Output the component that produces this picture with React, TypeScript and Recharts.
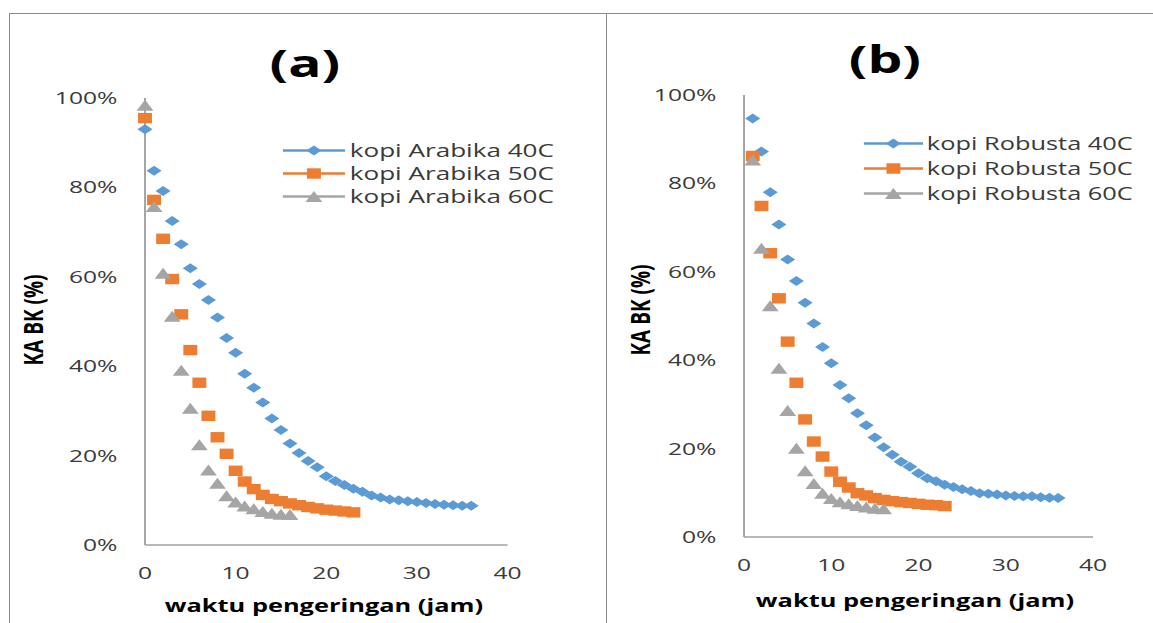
import React from 'react'
import { ScatterChart, Scatter, XAxis, YAxis, Legend } from 'recharts'

// drying time (hours)
const hoursA = [0, 1, 2, 3, 4, 5, 6, 7, 8, 9, 10, 11, 12, 13, 14, 15, 16, 17, 18, 19, 20, 21, 22, 23, 24, 25, 26, 27, 28, 29, 30, 31, 32, 33, 34, 35, 36]
const hoursB = [1, 2, 3, 4, 5, 6, 7, 8, 9, 10, 11, 12, 13, 14, 15, 16, 17, 18, 19, 20, 21, 22, 23, 24, 25, 26, 27, 28, 29, 30, 31, 32, 33, 34, 35, 36]

// moisture content, dry basis (%)
const arabika40 = [93, 83.7, 79.2, 72.5, 67.3, 61.9, 58.4, 54.8, 50.9, 46.3, 43, 38.3, 35.2, 31.9, 28.3, 25.7, 22.7, 20.6, 18.8, 17.4, 15.4, 14.3, 13.4, 12.6, 11.9, 11.1, 10.6, 10.2, 10, 9.8, 9.6, 9.4, 9.2, 9, 8.9, 8.8, 8.8]
const arabika50 = [95.5, 77.2, 68.5, 59.5, 51.6, 43.6, 36.3, 28.9, 24.1, 20.4, 16.6, 14.2, 12.5, 11.2, 10.3, 9.8, 9.3, 8.9, 8.5, 8.2, 7.9, 7.7, 7.5, 7.3]
const arabika60 = [98.4, 75.7, 60.8, 51.2, 39.1, 30.6, 22.4, 16.8, 13.8, 11, 9.6, 8.7, 8.1, 7.5, 7.1, 6.9, 6.8]
const robusta40 = [94.7, 87.2, 78, 70.7, 62.8, 57.9, 53, 48.3, 43, 39.3, 34.4, 31.4, 28, 25.3, 22.5, 20.3, 18.6, 17, 15.9, 14.4, 13.3, 12.6, 11.8, 11.3, 10.8, 10.4, 9.9, 9.8, 9.6, 9.4, 9.3, 9.2, 9.2, 9, 8.9, 8.8]
const robusta50 = [86.2, 74.9, 64.2, 54, 44.2, 34.9, 26.6, 21.6, 18.2, 14.8, 12.5, 11.2, 9.9, 9.4, 8.8, 8.4, 8.1, 7.9, 7.7, 7.5, 7.3, 7.2, 7]
const robusta60 = [85.3, 65.3, 52.3, 38.2, 28.6, 20.1, 15, 12.1, 9.9, 8.7, 8, 7.5, 7.1, 6.8, 6.5, 6.4]

const xTicks = [0, 10, 20, 30, 40]
const yTicks = [0, 20, 40, 60, 80, 100]

const BLUE = '#5B9BD5'
const ORANGE = '#ED7D31'
const GRAY = '#A5A5A5'
const AXIS = '#a0a0a0'
const TEXT = '#3a3a3a'
const FONT = '"Open Sans", sans-serif'
// the source picture is stretched sideways, so each panel is drawn narrow and widened
const STRETCH = 1.45

type Kind = 'diamond' | 'square' | 'triangle'
type Series = { name: string; hours: number[]; values: number[]; color: string; kind: Kind }

function Marker({ cx, cy, kind, color }: { cx?: number; cy?: number; kind: Kind; color: string }) {
  if (cx == null || cy == null) return null
  if (kind === 'diamond')
    return <polygon points={`${cx},${cy - 5} ${cx + 5.2},${cy} ${cx},${cy + 5} ${cx - 5.2},${cy}`} fill={color} />
  if (kind === 'square')
    return <rect x={cx - 4.8} y={cy - 5.2} width={9.6} height={10.4} fill={color} />
  return <polygon points={`${cx},${cy - 5.5} ${cx + 5.8},${cy + 5.5} ${cx - 5.8},${cy + 5.5}`} fill={color} />
}

function LegendRows({ items, fontSize, rowH, lineW }: { items: Series[]; fontSize: number; rowH: number; lineW: number }) {
  return (
    <div style={{ fontFamily: FONT, fontSize, color: TEXT }}>
      {items.map((s) => (
        <div key={s.name} style={{ display: 'flex', alignItems: 'center', height: rowH }}>
          <svg width={lineW} height={rowH} style={{ display: 'block' }}>
            <line x1={0} x2={lineW} y1={rowH / 2} y2={rowH / 2} stroke={s.color} strokeWidth={2.6} />
            <Marker cx={lineW / 2} cy={rowH / 2} kind={s.kind} color={s.color} />
          </svg>
          <span style={{ marginLeft: 3, whiteSpace: 'nowrap' }}>{s.name}</span>
        </div>
      ))}
    </div>
  )
}

const centered = (x: number, y: number): React.CSSProperties => ({
  position: 'absolute', left: x, top: y, transform: 'translate(-50%, -50%)', whiteSpace: 'nowrap',
})

function Panel({
  left, width, yAxisW, right, top, bottom, series, title, titlePos, yTitlePos, xTitlePos, legendPos, legendFont, legendRow, legendLine,
}: {
  left: number; width: number; yAxisW: number; right: number; top: number; bottom: number
  series: Series[]; title: string
  titlePos: [number, number]; yTitlePos: [number, number]; xTitlePos: [number, number]
  legendPos: [number, number]; legendFont: number; legendRow: number; legendLine: number
}) {
  return (
    <div style={{
      position: 'absolute', left, top: 0, width, height: 623,
      transform: `scaleX(${STRETCH})`, transformOrigin: '0 0', fontFamily: FONT,
    }}>
      <ScatterChart width={width} height={623} margin={{ top, right, bottom, left: 0 }}>
        <XAxis
          type="number" dataKey="x" domain={[0, 40]} ticks={xTicks} height={30}
          tickLine={false} tickSize={0} tickMargin={22}
          axisLine={{ stroke: AXIS, strokeWidth: 1.3 }}
          tick={{ fill: TEXT, fontSize: 17, fontFamily: FONT }}
        />
        <YAxis
          type="number" dataKey="y" domain={[0, 100]} ticks={yTicks} width={yAxisW}
          tickFormatter={(v: number) => `${v}%`}
          tickLine={false} tickSize={0} tickMargin={19}
          axisLine={{ stroke: AXIS, strokeWidth: 1.3 }}
          tick={{ fill: TEXT, fontSize: 17, fontFamily: FONT }}
        />
        <Legend
          layout="vertical" align="center" verticalAlign="middle"
          wrapperStyle={{ left: legendPos[0], top: legendPos[1], width: 'auto' }}
          content={() => <LegendRows items={series} fontSize={legendFont} rowH={legendRow} lineW={legendLine} />}
        />
        {series.map((s) => (
          <Scatter
            key={s.name}
            name={s.name}
            data={s.values.map((v, i) => ({ x: s.hours[i], y: v }))}
            fill={s.color}
            isAnimationActive={false}
            shape={(p: any) => <Marker cx={p.cx} cy={p.cy} kind={s.kind} color={s.color} />}
          />
        ))}
      </ScatterChart>
      <div style={{ ...centered(titlePos[0], titlePos[1]), fontSize: 38, fontWeight: 700, color: '#000' }}>{title}</div>
      <div style={{ ...centered(yTitlePos[0], yTitlePos[1]), transform: 'translate(-50%, -50%) rotate(-90deg)', fontSize: 19, fontWeight: 700, color: '#000' }}>
        KA BK (%)
      </div>
      <div style={{ ...centered(xTitlePos[0], xTitlePos[1]), fontSize: 17.5, fontWeight: 700, color: '#000' }}>
        waktu pengeringan (jam)
      </div>
    </div>
  )
}

const arabika: Series[] = [
  { name: 'kopi Arabika 40C', hours: hoursA, values: arabika40, color: BLUE, kind: 'diamond' },
  { name: 'kopi Arabika 50C', hours: hoursA, values: arabika50, color: ORANGE, kind: 'square' },
  { name: 'kopi Arabika 60C', hours: hoursA, values: arabika60, color: GRAY, kind: 'triangle' },
]

const robusta: Series[] = [
  { name: 'kopi Robusta 40C', hours: hoursB, values: robusta40, color: BLUE, kind: 'diamond' },
  { name: 'kopi Robusta 50C', hours: hoursB, values: robusta50, color: ORANGE, kind: 'square' },
  { name: 'kopi Robusta 60C', hours: hoursB, values: robusta60, color: GRAY, kind: 'triangle' },
]

export default function App() {
  const line = '#8c8c8c'
  return (
    <div style={{ position: 'absolute', left: 0, top: 0, width: 1153, height: 623, background: '#fff', overflow: 'hidden' }}>
      {/* frame lines */}
      <div style={{ position: 'absolute', left: 9, top: 13, width: 1144, height: 0, borderTop: `1px solid ${line}` }} />
      <div style={{ position: 'absolute', left: 9, top: 13, width: 0, height: 610, borderLeft: `1px solid ${line}` }} />
      <div style={{ position: 'absolute', left: 606, top: 13, width: 0, height: 610, borderLeft: `1px solid ${line}` }} />

      <Panel
        left={0} width={419} yAxisW={100} right={69} top={98} bottom={48}
        series={arabika} title="(a)"
        titlePos={[210.3, 62]} yTitlePos={[22.8, 320]} xTitlePos={[223.4, 605]}
        legendPos={[195.2, 138.5]} legendFont={18} legendRow={23} legendLine={43}
      />
      <Panel
        left={607} width={377} yAxisW={94.5} right={41.8} top={95} bottom={56}
        series={robusta} title="(b)"
        titlePos={[191.7, 58]} yTitlePos={[22.8, 310]} xTitlePos={[212.4, 600]}
        legendPos={[176.6, 130.5]} legendFont={17.5} legendRow={25} legendLine={41}
      />
    </div>
  )
}
